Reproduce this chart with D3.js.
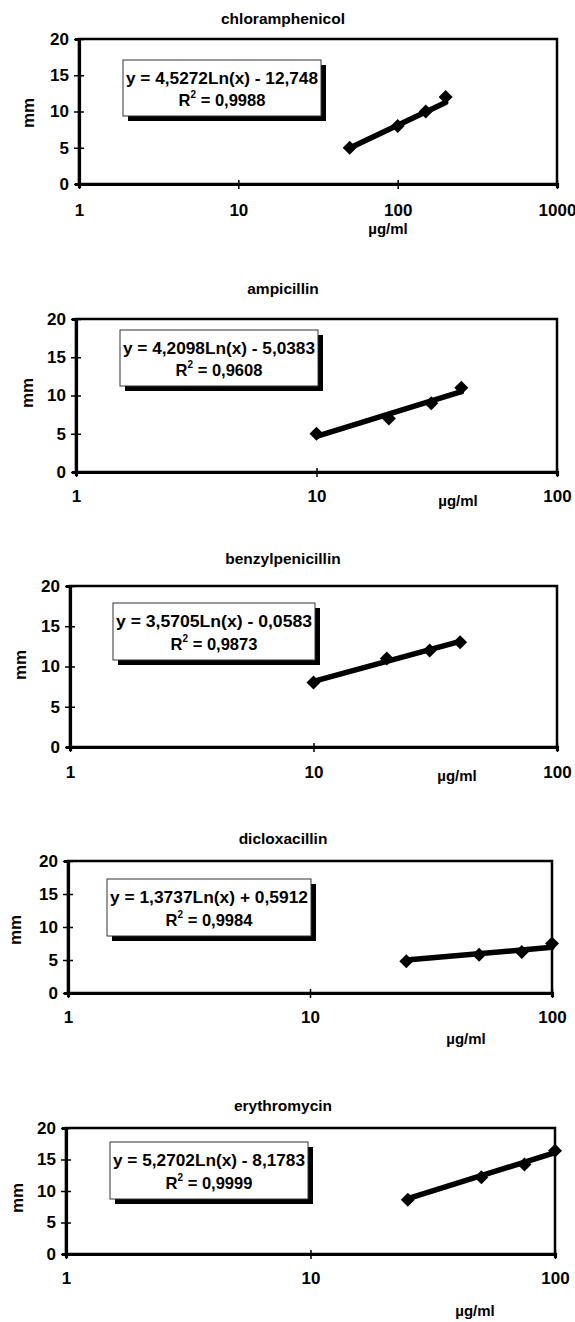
<!DOCTYPE html>
<html><head><meta charset="utf-8">
<script src="https://cdn.jsdelivr.net/npm/d3@7"></script>
<style>body{margin:0;background:#fff}svg{display:block}text{font-family:"Liberation Sans",Arial,sans-serif;font-weight:bold;fill:#000}</style>
</head><body>
<svg id="c" width="575" height="1322"></svg>
<script>
// ---- data ----
const titles = ["chloramphenicol","ampicillin","benzylpenicillin","dicloxacillin","erythromycin"];
const concChlor = [50,100,150,200];   const mmChlor = [5,8,10,12];
const concAmp = [10,20,30,40];        const mmAmp = [5,7,9,11];
const concBenz = [10,20,30,40];       const mmBenz = [8,11,12,13];
const concDiclox = [25,50,75,100];    const mmDiclox = [4.8,5.8,6.2,7.5];
const concEry = [25,50,75,100];       const mmEry = [8.6,12.2,14.2,16.4];
const slopes = [4.5272,4.2098,3.5705,1.3737,5.2702];
const intercepts = [-12.748,-5.0383,-0.0583,0.5912,-8.1783];
const eqLabels = ["y = 4,5272Ln(x) - 12,748","y = 4,2098Ln(x) - 5,0383","y = 3,5705Ln(x) - 0,0583","y = 1,3737Ln(x) + 0,5912","y = 5,2702Ln(x) - 8,1783"];
const r2Labels = ["0,9988","0,9608","0,9873","0,9984","0,9999"];
const xMax = [1000,100,100,100,100];
const yTicks = [0,5,10,15,20];
const xTickLabels1 = ["1","10","100","1000"];
const xTickLabels2 = ["1","10","100"];
const yLabel = "mm", xUnit = "µg/ml";

const conc = [concChlor,concAmp,concBenz,concDiclox,concEry];
const mm = [mmChlor,mmAmp,mmBenz,mmDiclox,mmEry];

// ---- layout ----
const layout = [
  {L:79,R:557,T:39,B:184,ty:18,xl:210,mm:[28,113],u:[388,228],lg:[123,60,321,116]},
  {L:76,R:557,T:319,B:472,ty:288,xl:496,mm:[27,393],u:[458,500],lg:[120,330,318,386]},
  {L:70,R:557,T:586,B:747,ty:558,xl:772,mm:[20,665],u:[457,775],lg:[113,603,315,660]},
  {L:68,R:552,T:861,B:993,ty:838,xl:1017,mm:[15,930],u:[466,1038],lg:[107,879,311,936]},
  {L:66,R:555,T:1128,B:1254,ty:1105,xl:1278,mm:[17,1198],u:[475,1310],lg:[110,1142,308,1199]}
];

const svg = d3.select("#c");
const diamond = "M0,-7L7,0L0,7L-7,0Z";

layout.forEach((p,i)=>{
  const g = svg.append("g");
  const x = d3.scaleLog().domain([1,xMax[i]]).range([p.L,p.R]);
  const y = d3.scaleLinear().domain([0,20]).range([p.B,p.T]);
  const xTicks = xMax[i]===1000 ? [1,10,100,1000] : [1,10,100];
  const xLabs = xMax[i]===1000 ? xTickLabels1 : xTickLabels2;

  g.append("text").attr("x",283).attr("y",p.ty).attr("text-anchor","middle")
   .attr("dominant-baseline","central").attr("font-size",15.5).text(titles[i]);

  g.append("rect").attr("x",p.L).attr("y",p.T).attr("width",p.R-p.L).attr("height",p.B-p.T)
   .attr("fill","none").attr("stroke","#000").attr("stroke-width",2.5);

  const ya = d3.axisLeft(y).tickValues(yTicks).tickSize(4).tickPadding(6).tickFormat(d3.format("d"));
  const yg = g.append("g").attr("transform",`translate(${p.L},0)`).call(ya);
  yg.select(".domain").attr("stroke","#000").attr("stroke-width",3.2);
  yg.selectAll(".tick line").attr("x2",-5).attr("x1",5).attr("stroke-width",1.5);
  yg.selectAll(".tick text").attr("font-size",17).attr("font-family","Liberation Sans, Arial, sans-serif")
    .attr("font-weight","normal").attr("x",-10);

  const xa = d3.axisBottom(x).tickValues(xTicks).tickSize(4).tickFormat((d,k)=>xLabs[k]);
  const xg = g.append("g").attr("transform",`translate(0,${p.B})`).call(xa);
  xg.select(".domain").attr("stroke","#000").attr("stroke-width",3.2);
  xg.selectAll(".tick line").attr("y1",-4).attr("y2",5).attr("stroke-width",1.5);
  xg.selectAll(".tick text").attr("font-size",17).attr("font-family","Liberation Sans, Arial, sans-serif")
    .attr("font-weight","normal").attr("y",p.xl-p.B).attr("dy","0.35em");

  g.append("text").attr("transform",`translate(${p.mm[0]},${p.mm[1]}) rotate(-90)`)
   .attr("text-anchor","middle").attr("dominant-baseline","central").attr("font-size",17).text(yLabel);
  g.append("text").attr("x",p.u[0]).attr("y",p.u[1]).attr("text-anchor","middle")
   .attr("dominant-baseline","central").attr("font-size",15).text(xUnit);

  const xs = conc[i];
  const trend = d3.line().x(d=>x(d)).y(d=>y(slopes[i]*Math.log(d)+intercepts[i]));
  g.append("path").attr("d",trend([xs[0],xs[xs.length-1]])).attr("fill","none")
   .attr("stroke","#000").attr("stroke-width",5.5).attr("stroke-linecap","round");

  g.selectAll("path.pt").data(xs.map((d,k)=>[d,mm[i][k]])).join("path").attr("class","pt")
   .attr("d",diamond).attr("transform",d=>`translate(${x(d[0])},${y(d[1])})`).attr("fill","#000");

  const [lx0,ly0,lx1,ly1] = p.lg;
  g.append("rect").attr("x",lx0+5).attr("y",ly0+5).attr("width",lx1-lx0).attr("height",ly1-ly0).attr("fill","#000");
  g.append("rect").attr("x",lx0).attr("y",ly0).attr("width",lx1-lx0).attr("height",ly1-ly0)
   .attr("fill","#fff").attr("stroke","#333").attr("stroke-width",1);
  const cx = (lx0+lx1)/2;
  g.append("text").attr("x",cx).attr("y",ly0+(ly1-ly0)*0.32).attr("text-anchor","middle")
   .attr("dominant-baseline","central").attr("font-size",16.5)
   .attr("textLength",lx1-lx0-6).attr("lengthAdjust","spacingAndGlyphs").text(eqLabels[i]);
  const t2 = g.append("text").attr("x",cx).attr("y",ly0+(ly1-ly0)*0.72).attr("text-anchor","middle")
   .attr("dominant-baseline","central").attr("font-size",16.5);
  t2.append("tspan").text("R");
  t2.append("tspan").attr("font-size",10).attr("dy",-6).text("2");
  t2.append("tspan").attr("dy",6).text(" = " + r2Labels[i]);
});
</script>
</body></html>
